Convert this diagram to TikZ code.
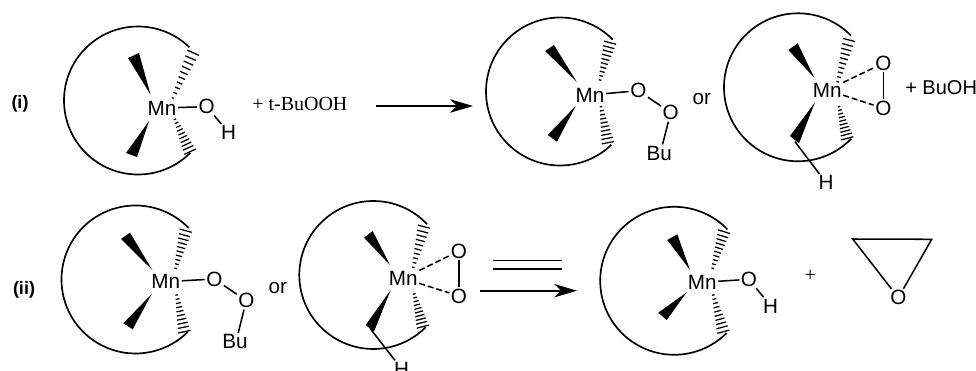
\documentclass[tikz,border=0pt]{standalone}
\usepackage{fontspec}
\setmainfont{Liberation Sans}
\newfontfamily\timesf{Liberation Serif}
\usetikzlibrary{calc,arrows.meta}
\newcommand{\hashb}[4]{%
\foreach \t/\w in {0/1,0.055/1.45,0.11/1.9,0.165/2.3,0.22/2.7,0.275/3.1,0.33/3.5,0.385/3.9,0.44/4.3,0.5/4.7}
\draw[hashline] ($(#1,#2)!\t!($(#1,#2)!2!(#3,#4)$)!\w pt!90:($(#1,#2)!2!(#3,#4)$)$) -- ($(#1,#2)!\t!($(#1,#2)!2!(#3,#4)$)!\w pt!-90:($(#1,#2)!2!(#3,#4)$)$);}
\begin{document}
\begin{tikzpicture}[x=0.75pt,y=-0.75pt,>={Stealth[length=17pt,width=10pt,inset=5pt]}]
\tikzset{ring/.style={line width=1.25pt},
  bond/.style={line width=1.15pt},
  dashbond/.style={bond,dash pattern=on 4.5pt off 2.2pt},
  hashline/.style={line width=0.95pt},
  atom/.style={inner sep=1pt,font=\fontsize{15.5}{16}\selectfont},
  tag/.style={inner sep=0pt,font=\fontsize{13.5}{16}\selectfont\bfseries},
  rarrow/.style={line width=1.4pt,->}}
\useasboundingbox (0,0) rectangle (976,371);
\clip (0,0) rectangle (976,371);
% rings
\foreach \cx/\cy/\ra/\rb in {138/100.5/-46/-315,560/91.5/-44.5/-314,798/87.3/-44.3/-316,135.5/279.5/-44/-315,373.3/275/-43.5/-315,674.2/280.8/-44/-315}
\draw[ring] ([shift={(\cx,\cy)}]\ra:74) arc [start angle=\ra,end angle=\rb,radius=74];
% wedges
\foreach \tx/\ty/\ax/\ay/\bx/\by in {150.7/95/128/58/139/53,149/121/126/153/137/157,
576.7/81.7/545/51/554/45,575.7/106/547.7/135/557/141.7,
814.3/77.7/788.3/50/797.7/43.3,815/102.3/790/136/799/143.3,
152.3/270/121/239/130/232.7,151.7/294/123.3/323.3/132.7/329.3,
390/265/364/237.7/372.7/231,390.7/290/365.7/325/374/331.7,
690/270/667.3/240/677.3/234.3,686.7/292.3/658.3/312.7/666.7/320}
\fill (\tx,\ty) -- (\ax,\ay) -- (\bx,\by) -- cycle;
% hashed bonds
\hashb{173}{98}{193}{52.7}
\hashb{175}{119.3}{190}{151.7}
\hashb{600}{80}{610}{42.7}
\hashb{601}{106.7}{608}{142.7}
\hashb{837.7}{81.7}{849}{40}
\hashb{839}{106.7}{847.3}{138.3}
\hashb{175.7}{268.3}{185.7}{230.7}
\hashb{176.7}{295}{184.3}{331.7}
\hashb{413.3}{267.3}{424}{226.7}
\hashb{414.3}{294}{422.7}{326.7}
\hashb{712.7}{268.3}{724}{231.7}
\hashb{713.3}{295}{723.3}{331.7}
% reaction (i)
\node[tag] (tagi) at (20,104.3) {(i)};
\node[atom] (aMn) at (162,108) {Mn};
\node[atom] (aO) at (206.7,106.7) {O};
\node[atom] (aH) at (228.7,132.7) {H};
\draw[bond] (aMn) -- (aO);
\draw[bond] (aO) -- (aH);
\node[inner sep=0pt,font=\fontsize{15}{16}\timesf,anchor=west] (tbu) at (252,104) {+ t-BuOOH};
\coordinate (ia) at (376,106);
\coordinate (ib) at (473,106);
\draw[rarrow] (ia) -- (ib);
\node[atom] (bMn) at (590,95) {Mn};
\node[atom] (bOa) at (638.3,90.7) {O};
\node[atom] (bOb) at (670.7,112.7) {O};
\node[atom] (bBu) at (659.3,153.3) {Bu};
\draw[bond] (bMn) -- (bOa);
\draw[bond] (bOa) -- (bOb);
\draw[bond] (bOb) -- (bBu.70);
\node[atom] (bor) at (701.7,99.3) {or};
\node[atom] (cMn) at (827.3,90) {Mn};
\node[atom] (cOa) at (883.3,63.3) {O};
\node[atom] (cOb) at (883.3,108.3) {O};
\node[atom] (cH) at (826,182.7) {H};
\coordinate (cC) at (795,141.7);
\draw[dashbond] (cMn) -- (cOa);
\draw[dashbond] (cMn) -- (cOb);
\draw[bond] (cOa) -- (cOb);
\draw[bond] (cC) -- (cH);
\node[atom,anchor=west,inner sep=0pt,font=\fontsize{15}{16}\selectfont] (buoh) at (905,87.3) {+ BuOH};
% reaction (ii)
\node[tag] (tagii) at (24,290) {(ii)};
\node[atom] (dMn) at (165.7,281.7) {Mn};
\node[atom] (dOa) at (214.3,279) {O};
\node[atom] (dOb) at (246.3,300.7) {O};
\node[atom] (dBu) at (235,341.7) {Bu};
\draw[bond] (dMn) -- (dOa);
\draw[bond] (dOa) -- (dOb);
\draw[bond] (dOb) -- (dBu.70);
\node[atom] (dor) at (277.7,287.7) {or};
\node[atom] (eMn) at (403.3,278.3) {Mn};
\node[atom] (eOa) at (459,251) {O};
\node[atom] (eOb) at (459,296) {O};
\node[atom] (eH) at (401.7,369) {H};
\coordinate (eC) at (370,328.3);
\draw[dashbond] (eMn) -- (eOa);
\draw[dashbond] (eMn) -- (eOb);
\draw[bond] (eOa) -- (eOb);
\draw[bond] (eC) -- (eH);
\coordinate (da) at (492.7,260.3);
\coordinate (db) at (562.3,260.3);
\coordinate (dc) at (492.7,269);
\coordinate (dd) at (562.3,269);
\draw[bond] (da) -- (db);
\draw[bond] (dc) -- (dd);
\coordinate (iia) at (480,290.7);
\coordinate (iib) at (577,290.7);
\draw[rarrow] (iia) -- (iib);
\node[atom] (fMn) at (702.3,282.3) {Mn};
\node[atom] (fO) at (749,279.3) {O};
\node[atom] (fH) at (770.7,306) {H};
\draw[bond] (fMn) -- (fO);
\draw[bond] (fO) -- (fH);
\node[inner sep=0pt,font=\fontsize{15}{16}\timesf] (plus) at (810.3,276.3) {+};
\coordinate (epa) at (852.7,239);
\coordinate (epb) at (931.7,239.3);
\node[atom] (epO) at (898.3,297.7) {O};
\draw[bond,line join=miter] (epO) -- (epa) -- (epb) -- (epO);
\end{tikzpicture}
\end{document}
